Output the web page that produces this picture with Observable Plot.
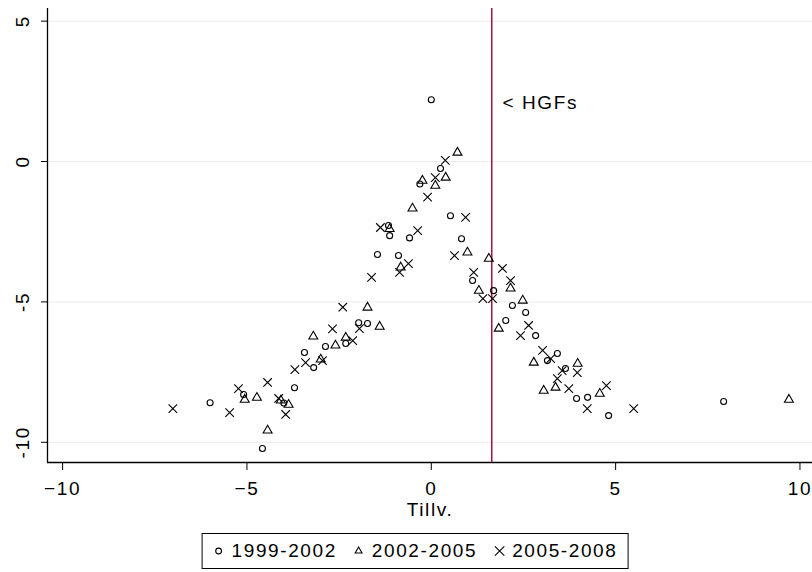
<!DOCTYPE html>
<html><head><meta charset="utf-8">
<script src="https://cdn.jsdelivr.net/npm/d3@7"></script>
<script src="https://cdn.jsdelivr.net/npm/@observablehq/plot@0.6"></script>
<style>
body{margin:0;background:#fff;font-family:"Liberation Sans",Arial,sans-serif;}
#wrap{position:relative;width:812px;height:572px;overflow:hidden;}
#chart svg text{letter-spacing:1.6px;}
#legend{position:absolute;left:415px;top:533px;height:36px;box-sizing:border-box;transform:translateX(-50%);border:1px solid #000;padding:0 10px;font-size:19px;letter-spacing:1.6px;white-space:nowrap;display:flex;align-items:center;background:#fff;}
#legend span.item{display:inline-flex;align-items:center;gap:7px;margin-right:16px;}
#legend span.item:last-child{margin-right:0;}
</style></head><body><div id="wrap"><div id="chart"></div><div id="legend"></div></div>
<script>
const xTicks = [-10, -5, 0, 5, 10];
const yTicks = [5, 0, -5, -10];
const seriesNames = ["1999-2002", "2002-2005", "2005-2008"];
const seriesSymbols = ["circle", "triangle", "times"];
const xDomain = [-10.41, 10.34];
const yDomain = [-10.72, 5.45];
const cutoff = 1.64;
const cutoffLabel = "< HGFs";
const cutoffLabelPos = [1.93, 2.1];
const xTitle = "Tillv.";

const s1999 = [
  [-6.0,-8.59],[-5.09,-8.3],[-4.58,-10.22],[-4.0,-8.6],[-3.71,-8.06],[-3.44,-6.8],
  [-3.19,-7.34],[-2.87,-6.59],[-2.32,-6.48],[-1.97,-5.74],[-1.73,-5.77],[-1.46,-3.31],
  [-1.16,-2.28],[-1.13,-2.64],[-0.89,-3.35],[-0.59,-2.72],[-0.31,-0.8],[0.0,2.2],
  [0.25,-0.25],[0.52,-1.93],[0.82,-2.75],[1.12,-4.24],[1.69,-4.6],[2.02,-5.66],
  [2.2,-5.13],[2.56,-5.38],[2.83,-6.2],[3.15,-7.09],[3.42,-6.84],[3.64,-7.37],
  [3.94,-8.44],[4.24,-8.4],[4.81,-9.05],[7.93,-8.55]
];
const s2002 = [
  [-5.06,-8.48],[-4.73,-8.41],[-4.44,-9.58],[-4.08,-8.51],[-3.87,-8.66],[-3.2,-6.23],
  [-3.0,-7.05],[-2.6,-6.55],[-2.32,-6.27],[-1.73,-5.2],[-1.4,-5.88],[-1.13,-2.4],
  [-0.83,-3.77],[-0.51,-1.67],[-0.24,-0.68],[0.11,-0.86],[0.39,-0.57],[0.71,0.32],
  [0.98,-3.24],[1.29,-4.6],[1.56,-3.46],[1.83,-5.95],[2.15,-4.52],[2.48,-4.95],
  [2.78,-7.16],[3.05,-8.16],[3.37,-8.05],[3.97,-7.2],[4.57,-8.27],[9.7,-8.48]
];
const s2005 = [
  [-7.01,-8.8],[-5.47,-8.94],[-5.23,-8.09],[-4.44,-7.87],[-4.14,-8.44],[-3.95,-9.01],
  [-3.7,-7.41],[-3.41,-7.16],[-2.95,-7.09],[-2.68,-5.96],[-2.4,-5.19],[-2.13,-6.38],
  [-1.95,-5.95],[-1.62,-4.13],[-1.38,-2.35],[-0.86,-3.95],[-0.62,-3.64],[-0.37,-2.46],
  [-0.1,-1.27],[0.11,-0.57],[0.38,0.04],[0.63,-3.35],[0.93,-1.99],[1.15,-3.95],
  [1.4,-4.88],[1.66,-4.88],[1.93,-3.81],[2.15,-4.24],[2.42,-6.2],[2.64,-5.84],
  [3.02,-6.73],[3.24,-7.02],[3.42,-7.73],[3.55,-7.45],[3.73,-8.09],[3.96,-7.52],
  [4.23,-8.8],[4.75,-7.98],[5.49,-8.8]
];

const seriesData = [s1999, s2002, s2005];
const data = seriesData.flatMap((arr, i) => arr.map(([x, y]) => ({x, y, s: seriesNames[i]})));
const sizeOf = {"1999-2002": 3.6, "2002-2005": 4.4, "2005-2008": 6.2};

const font = "Liberation Sans, Arial, sans-serif";
const plot = Plot.plot({
  width: 812, height: 533,
  marginLeft: 47, marginRight: 0, marginTop: 8, marginBottom: 71,
  style: {fontFamily: font, fontSize: "19px", background: "white", color: "black"},
  x: {domain: xDomain, label: null},
  y: {domain: yDomain, label: null},
  symbol: {domain: seriesNames, range: seriesSymbols},
  marks: [
    Plot.gridY(yTicks, {stroke: "#ececec", strokeOpacity: 1}),
    Plot.axisX(xTicks, {tickSize: 8, tickPadding: 11, fontSize: 19, label: null}),
    Plot.axisY(yTicks, {tickSize: 6, tickFormat: () => "", label: null}),
    Plot.text(yTicks, {x: () => xDomain[0], y: d => d, text: d => String(d), rotate: -90, dx: -25, textAnchor: "middle", lineAnchor: "middle", fontSize: 19}),
    Plot.ruleX([xDomain[0]], {stroke: "black", strokeWidth: 1.3}),
    Plot.ruleY([yDomain[0]], {stroke: "black", strokeWidth: 1.3}),
    Plot.ruleX([cutoff], {stroke: "#a3143f", strokeWidth: 1.5}),
    Plot.text([cutoffLabel], {x: () => cutoffLabelPos[0], y: () => cutoffLabelPos[1], text: d => d, textAnchor: "start", fontSize: 19}),
    Plot.text([xTitle], {frameAnchor: "bottom", dy: 40, lineAnchor: "top", text: d => d, fontSize: 19}),
    Plot.dot(data, {x: "x", y: "y", symbol: "s", r: d => sizeOf[d.s], stroke: "black", fill: "none", strokeWidth: 1.1})
  ]
});
document.getElementById("chart").appendChild(plot);

// legend
const legSym = [d3.symbolCircle, d3.symbolTriangle2, d3.symbolTimes];
const legSize = [26, 34, 60];
const leg = d3.select("#legend");
seriesNames.forEach((name, i) => {
  const item = leg.append("span").attr("class", "item");
  const svg = item.append("svg").attr("width", 12).attr("height", 12).attr("viewBox", "-6 -6 12 12");
  svg.append("path").attr("d", d3.symbol(legSym[i], legSize[i])())
    .attr("fill", "none").attr("stroke", "black").attr("stroke-width", 1.1);
  item.append("span").text(name);
});
</script></body></html>
